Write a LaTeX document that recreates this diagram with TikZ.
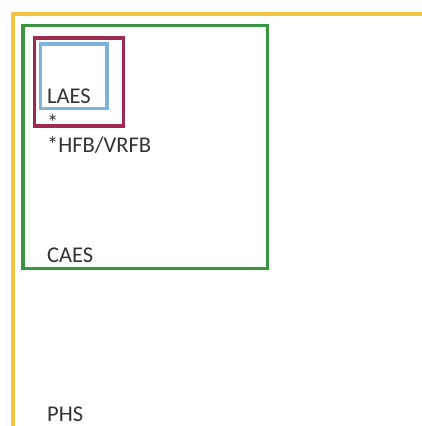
\documentclass[tikz,border=0pt]{standalone}
\usepackage{fontspec}
\setmainfont{Carlito}
\definecolor{phsgold}{HTML}{F2C241}
\definecolor{caesgreen}{HTML}{37963F}
\definecolor{batmaroon}{HTML}{9E2A4F}
\definecolor{laesblue}{HTML}{7EB3DE}
\definecolor{labelgray}{HTML}{333333}
\begin{document}
\begin{tikzpicture}[x=1pt,y=-1pt,
  frame/.style={line width=3.2pt},
  lbl/.style={anchor=base west,inner sep=0pt,font=\fontsize{22.5}{22.5}\selectfont,text=labelgray}]
\useasboundingbox (0,0) rectangle (422,426);
% outer PHS region: open-ended L-shaped border
\coordinate (phsTR) at (422,14);
\coordinate (phsBL) at (13,426);
\draw[frame,draw=phsgold] (phsTR) -- (13,14) -- (phsBL);
% nested boxes
\draw[frame,draw=caesgreen] (23,25.5) rectangle (267.5,268.5);
\draw[frame,draw=batmaroon] (34.5,38) rectangle (123.5,126);
\draw[frame,draw=laesblue] (40.5,44) rectangle (107,108.5);
% labels
\node[lbl] (laes) at (47,103) {LAES};
\node[lbl] (star) at (47,130) {*};
\node[lbl] (hfb) at (47,152) {*HFB/VRFB};
\node[lbl] (caesl) at (47,262) {CAES};
\node[lbl] (phs) at (47,421) {PHS};
\end{tikzpicture}
\end{document}
